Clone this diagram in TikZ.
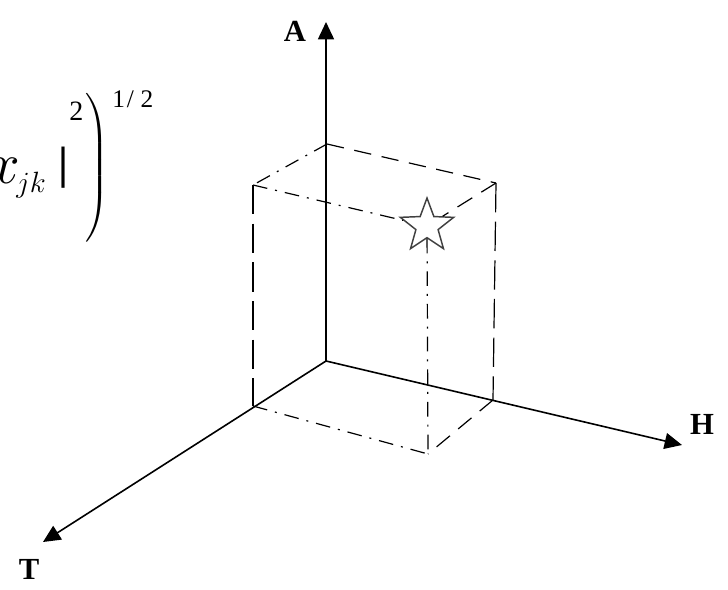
\RequirePackage{fix-cm}
\documentclass[tikz,border=0pt]{standalone}
\usepackage{exscale}
\usepackage{fontspec}
\setmainfont{Liberation Serif}
\usetikzlibrary{arrows.meta,shapes.geometric}
\begin{document}
\begin{tikzpicture}[x=0.75pt, y=-0.75pt,
    axis/.style={line width=1.2pt, -{Triangle[length=13pt,width=12pt]}},
    edgeline/.style={line width=0.9pt, dash pattern=on 13pt off 8pt},
    longline/.style={line width=0.9pt, dash pattern=on 22pt off 7pt},
    dotline/.style={line width=0.9pt, dash pattern=on 11pt off 6pt on 1.5pt off 6pt},
    lbl/.style={font=\fontsize{23}{23}\selectfont\bfseries, inner sep=0pt},
    part/.style={inner sep=0pt}
]
\useasboundingbox (0,0) rectangle (728,589);
% formula fragment
\node[part, anchor=base east] (xvar) at (20,183) {\fontsize{44}{44}\selectfont$x$};
\node[part, anchor=base west] (sub) at (16,192) {\fontsize{22}{22}\selectfont$jk$};
\node[part] (bar) at (63,168) {\fontsize{34}{34}\selectfont\bfseries|};
\node[part, anchor=base west] (sq) at (69,120) {\fontsize{21}{21}\selectfont 2};
\node[part] (paren) at (97,168) {\fontsize{20}{20}\selectfont$\left.\vrule height 48pt depth 48pt width 0pt\right)$};
\node[part, anchor=base west] (half) at (112,107) {\fontsize{19}{19}\selectfont 1\kern1.5pt/\kern5pt2};
% axes
\coordinate (O) at (326,361);
\coordinate (Aend) at (326,22);
\coordinate (Hend) at (682,445);
\coordinate (Tend) at (43,542);
\draw[axis] (O) -- (Aend);
\draw[axis] (O) -- (Hend);
\draw[axis] (O) -- (Tend);
\node[lbl] (A) at (295,31) {A};
\node[lbl] (H) at (702,424) {H};
\node[lbl] (T) at (29,569) {T};
% box corners
\coordinate (BT) at (327,144);
\coordinate (LT) at (253,185);
\coordinate (RT) at (496,183);
\coordinate (LB) at (253,406);
\coordinate (RB) at (493,400);
\coordinate (FB) at (428,454);
\node[star, star points=5, star point ratio=2.4, draw=black!75, line width=1.1pt,
      inner sep=0pt, minimum size=42pt] (pt) at (427,226) {};
% box edges
\draw[dotline] (BT) -- (LT);
\draw[edgeline] (BT) -- (RT);
\draw[dotline] (LT) -- (pt);
\draw[edgeline] (RT) -- (pt);
\draw[longline] (LT) -- (LB);
\draw[longline] (RT) -- (RB);
\draw[dotline] (pt) -- (FB);
\draw[dotline] (LB) -- (FB);
\draw[edgeline] (RB) -- (FB);
\end{tikzpicture}
\end{document}
